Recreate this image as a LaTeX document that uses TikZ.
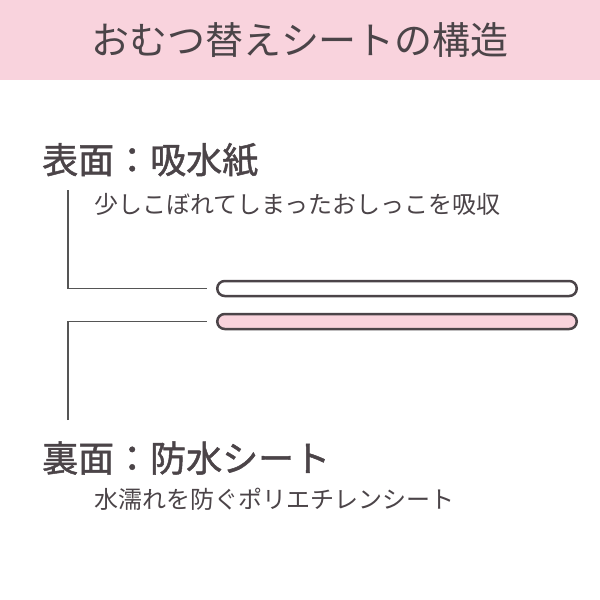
\documentclass[tikz,border=0pt]{standalone}
\usepackage{fontspec}
\newfontfamily\jp{Noto Sans CJK JP}
\newfontfamily\jpmed[FakeBold=1.3]{Noto Sans CJK JP}
\definecolor{headpink}{HTML}{F9D3DD}
\definecolor{barpink}{HTML}{F9D3DC}
\definecolor{ink}{HTML}{4B4448}
\definecolor{linegray}{HTML}{555555}
\tikzset{
  titletext/.style={font=\jp\fontsize{38}{40}\selectfont, text=ink, inner sep=0pt},
  headtext/.style={font=\jpmed\fontsize{36}{38}\selectfont, text=ink, inner sep=0pt, anchor=west},
  subtext/.style={font=\jp\fontsize{24}{26}\selectfont, text=ink, inner sep=0pt, anchor=west},
  layerbar/.style={draw=ink, line width=2.5pt, rounded corners=7.5pt, minimum width=359.5pt, minimum height=15pt, inner sep=0pt},
  leader/.style={draw=linegray, line width=1.1pt, shorten >=9pt}
}
\begin{document}
\begin{tikzpicture}[x=1pt,y=-1pt]
\useasboundingbox (0,0) rectangle (600,600);
\fill[white] (0,0) rectangle (600,600);
\fill[headpink] (0,0) rectangle (600,80);
\node[titletext] (title) at (300,40) {おむつ替えシートの構造};

\node[headtext] (head1) at (42,160) {表面：吸水紙};
\node[subtext] (sub1) at (94,204) {少しこぼれてしまったおしっこを吸収};

\node[layerbar, fill=white] (bar1) at (397,288.5) {};
\node[layerbar, fill=barpink] (bar2) at (397,321.5) {};

\coordinate (c1) at (68,190);
\coordinate (c2) at (68,420);
\draw[leader] (c1) |- (bar1.west);
\draw[leader] (c2) |- (bar2.west);

\node[headtext] (head2) at (42,458) {裏面：防水シート};
\node[subtext] (sub2) at (94,499) {水濡れを防ぐポリエチレンシート};
\end{tikzpicture}
\end{document}
